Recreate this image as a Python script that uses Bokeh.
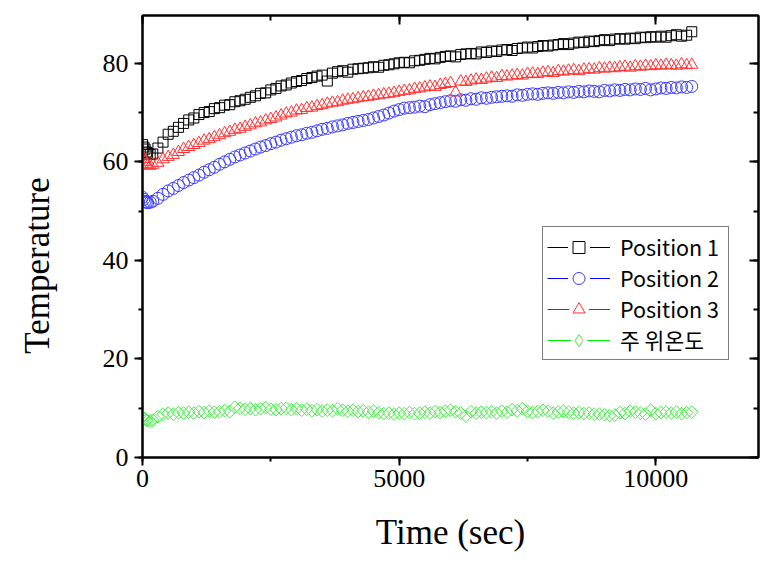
import numpy as np
from bokeh.plotting import figure
from bokeh.models import (Range1d, SingleIntervalTicker, LinearAxis, Legend,
                          LegendItem, Label)
from bokeh.embed import file_html
from bokeh.resources import INLINE

# ---------------- data ----------------
TIME = [0, 25, 50, 75, 100, 150, 200,
        300, 400, 500, 600, 700, 800, 900, 1000, 1100, 1200,
        1300, 1400, 1500, 1600, 1700, 1800, 1900, 2000, 2100, 2200,
        2300, 2400, 2500, 2600, 2700, 2800, 2900, 3000, 3100, 3200,
        3300, 3400, 3500, 3600, 3700, 3800, 3900, 4000, 4100, 4200,
        4300, 4400, 4500, 4600, 4700, 4800, 4900, 5000, 5100, 5200,
        5300, 5400, 5500, 5600, 5700, 5800, 5900, 6000, 6100, 6200,
        6300, 6400, 6500, 6600, 6700, 6800, 6900, 7000, 7100, 7200,
        7300, 7400, 7500, 7600, 7700, 7800, 7900, 8000, 8100, 8200,
        8300, 8400, 8500, 8600, 8700, 8800, 8900, 9000, 9100, 9200,
        9300, 9400, 9500, 9600, 9700, 9800, 9900, 10000, 10100, 10200,
        10300, 10400, 10500, 10600, 10700]

POSITION_1 = [63.5, 63.0, 62.6, 62.0, 61.8, 61.5, 61.6,
              62.8, 64.0, 65.6, 66.2, 67.0, 67.8, 68.5, 68.9, 69.6, 70.0,
              70.2, 70.8, 71.0, 71.5, 71.6, 72.2, 72.4, 72.7, 73.1, 73.4,
              73.9, 74.0, 74.6, 74.9, 75.4, 75.6, 76.0, 76.3, 76.5, 76.9,
              77.1, 77.4, 77.6, 76.4, 78.0, 78.3, 78.5, 78.2, 78.8, 78.9,
              79.0, 79.1, 79.3, 79.2, 79.6, 79.7, 79.9, 80.1, 80.2, 80.1,
              80.5, 80.6, 80.8, 81.0, 80.9, 81.2, 81.4, 81.5, 81.3, 81.8,
              81.9, 82.0, 81.9, 82.3, 82.2, 82.5, 82.4, 82.7, 82.8, 82.6,
              83.0, 83.1, 83.3, 83.1, 83.4, 83.6, 83.5, 83.7, 83.8, 84.0,
              83.8, 84.1, 84.3, 84.2, 84.5, 84.4, 84.6, 84.8, 84.6, 84.9,
              85.0, 84.9, 85.1, 85.0, 85.3, 85.2, 85.4, 85.3, 85.5, 85.3,
              85.6, 85.8, 85.5, 85.7, 86.4]

POSITION_2 = [52.8, 52.4, 52.0, 51.8, 51.7, 51.8, 52.0,
              52.6, 53.4, 54.1, 54.6, 55.2, 55.8, 56.3, 56.8, 57.3, 57.9,
              58.4, 58.9, 59.5, 60.0, 60.5, 61.0, 61.4, 61.8, 62.2, 62.6,
              63.0, 63.3, 63.7, 64.0, 64.4, 64.7, 65.0, 65.3, 65.5, 65.8,
              66.0, 66.3, 66.6, 66.8, 67.1, 67.3, 67.5, 67.8, 68.0, 68.2,
              68.4, 68.6, 68.9, 69.2, 69.5, 69.9, 70.3, 70.6, 70.9, 71.0,
              71.1, 71.3, 71.2, 71.6, 71.8, 72.0, 72.2, 72.4, 72.3, 72.6,
              72.5, 72.8, 72.7, 73.0, 72.9, 73.1, 73.2, 73.3, 73.4, 73.3,
              73.6, 73.5, 73.7, 73.8, 73.7, 73.9, 74.0, 73.9, 74.1, 74.0,
              74.2, 74.1, 74.3, 74.2, 74.4, 74.3, 74.2, 74.5, 74.4, 74.6,
              74.5, 74.7, 74.6, 74.8, 74.7, 74.9, 74.6, 74.8, 75.0, 74.9,
              75.1, 75.0, 75.2, 75.1, 75.3]

POSITION_3 = [61.2, 60.6, 60.0, 59.6, 59.3, 59.2, 59.4,
              59.8, 60.5, 61.0, 61.4, 62.0, 62.6, 63.0, 63.4, 63.8, 64.3,
              64.6, 65.0, 65.4, 65.8, 66.1, 66.5, 66.7, 67.1, 67.4, 67.8,
              68.0, 68.4, 68.7, 69.0, 69.4, 69.8, 70.0, 70.4, 70.5, 70.9,
              71.0, 71.3, 71.5, 71.8, 72.0, 72.1, 72.4, 72.6, 72.7, 72.9,
              73.1, 73.2, 73.4, 73.5, 73.7, 73.8, 74.0, 74.2, 74.4, 74.5,
              74.8, 74.9, 75.1, 75.3, 75.2, 75.6, 75.8, 76.0, 74.1, 76.3,
              76.2, 76.5, 76.7, 76.6, 76.9, 77.1, 77.0, 77.4, 77.3, 77.5,
              77.6, 77.5, 77.8, 77.9, 77.8, 78.1, 78.2, 78.0, 78.4, 78.3,
              78.5, 78.6, 78.4, 78.7, 78.8, 78.7, 79.0, 78.9, 79.1, 79.0,
              79.2, 79.3, 79.1, 79.4, 79.3, 79.5, 79.4, 79.6, 79.5, 79.7,
              79.6, 79.5, 79.8, 79.6, 79.7]

AMBIENT = [8.2, 8.0, 7.8, 7.6, 7.5, 7.4, 7.6,
           8.3, 8.8, 9.0, 8.8, 9.1, 9.0, 9.2, 9.0, 9.3, 9.1,
           9.4, 9.2, 9.3, 9.5, 9.3, 10.2, 10.0, 9.8, 9.9, 9.7,
           9.9, 10.1, 9.8, 9.7, 9.9, 10.0, 9.7, 9.9, 9.6, 9.8,
           9.5, 9.7, 9.4, 9.6, 9.5, 9.9, 9.6, 9.4, 9.6, 9.3,
           9.5, 9.2, 9.4, 9.1, 8.9, 9.0, 8.8, 9.0, 8.9, 9.1,
           8.9, 9.0, 9.2, 9.0, 9.3, 9.1, 9.4, 9.6, 9.3, 9.0,
           8.4, 9.3, 9.0, 9.2, 9.1, 9.3, 9.0, 9.4, 9.2, 9.7,
           9.5, 9.9, 9.4, 9.1, 9.3, 9.6, 9.4, 9.0, 9.2, 9.4,
           9.2, 9.0, 9.1, 8.9, 9.0, 8.8, 8.8, 8.7, 8.5, 8.6,
           9.1, 8.9, 9.4, 9.2, 9.0, 8.8, 9.6, 8.9, 9.1, 9.2,
           9.0, 9.2, 8.9, 9.1, 9.2]

SERIES = [POSITION_1, POSITION_2, POSITION_3, AMBIENT]
LABELS = ["Position 1", "Position 2", "Position 3", "주 위온도"]
X_LABEL = "Time (sec)"
Y_LABEL = "Temperature"

# ---------------- styles ----------------
MARKERS = ["square", "circle", "triangle", "square"]
LEGEND_MARKERS = ["square", "circle", "triangle", "diamond"]
LEGEND_SIZES = [11, 13, 13, 15]
ANGLES = [0, 0, 0, np.pi / 4]
SIZES = [10, 12, 12, 9]
MARKER_COLORS = ["#000000", "#3a3aff", "#ff3030", "#44ee44"]
LINE_COLORS = ["#000000", "#0000ff", "#ff0000", "#00ee00"]

SERIF = "Liberation Serif"

p = figure(width=770, height=565, output_backend="svg", toolbar_location=None,
           x_range=Range1d(0, 12000), y_range=Range1d(0, 89.7),
           min_border_left=142, min_border_right=12, min_border_top=15,
           min_border_bottom=108)
p.xgrid.visible = False
p.ygrid.visible = False
p.outline_line_color = "black"
p.outline_line_width = 2
p.background_fill_color = "white"
p.border_fill_color = "white"

xticker = SingleIntervalTicker(interval=5000, num_minor_ticks=2)
yticker = SingleIntervalTicker(interval=20, num_minor_ticks=2)
p.xaxis.ticker = xticker
p.yaxis.ticker = yticker

for ax in (p.xaxis[0], p.yaxis[0]):
    ax.axis_line_width = 2
    ax.major_tick_line_width = 2
    ax.minor_tick_line_width = 2
    ax.major_tick_out = 8
    ax.major_tick_in = 0
    ax.minor_tick_out = 4
    ax.minor_tick_in = 0
    ax.major_label_text_font = SERIF
    ax.major_label_text_font_size = "26px"
    ax.major_label_text_color = "black"
p.xaxis.major_label_standoff = 4
p.yaxis.major_label_standoff = 6

p.xaxis.axis_label = X_LABEL
p.xaxis.axis_label_text_font = SERIF
p.xaxis.axis_label_text_font_size = "35px"
p.xaxis.axis_label_text_font_style = "normal"
p.xaxis.axis_label_text_color = "black"
p.xaxis.axis_label_standoff = 23

for side, tk in (("above", xticker), ("right", yticker)):
    ax = LinearAxis(ticker=tk, major_label_text_font_size="1px",
                    major_label_text_color=None,
                    major_label_standoff=0, axis_line_width=2,
                    major_tick_line_width=2, minor_tick_line_width=2,
                    major_tick_in=9, major_tick_out=0,
                    minor_tick_in=5, minor_tick_out=0)
    p.add_layout(ax, side)

# y-axis title placed in the left side panel (so it is not clipped to the frame)
ylab = Label(x=-23, y=192, x_units="screen", y_units="screen",
             text=Y_LABEL, angle=np.pi / 2, text_align="center",
             text_baseline="middle", text_font=SERIF,
             text_font_size="35px", text_color="black")
p.add_layout(ylab, "left")

for ys, m, ang, sz, mc in zip(SERIES, MARKERS, ANGLES, SIZES, MARKER_COLORS):
    p.scatter(x=TIME, y=ys, marker=m, angle=ang, size=sz,
              fill_color=None, line_color=mc, line_width=1)

items = []
for lbl, m, ls, mc, lc in zip(LABELS, LEGEND_MARKERS, LEGEND_SIZES,
                              MARKER_COLORS, LINE_COLORS):
    line_r = p.line(x=[np.nan], y=[np.nan], line_color=lc, line_width=1.2)
    back_r = p.scatter(x=[np.nan], y=[np.nan], marker=m, size=ls,
                       fill_color="white", line_color="white", line_width=10)
    mark_r = p.scatter(x=[np.nan], y=[np.nan], marker=m, size=ls,
                       fill_color=None, line_color=mc, line_width=1)
    items.append(LegendItem(label=lbl, renderers=[line_r, back_r, mark_r]))

legend = Legend(items=items, location=(400, 97))
legend.border_line_color = "black"
legend.border_line_width = 1
legend.background_fill_color = "white"
legend.background_fill_alpha = 1
legend.label_text_font = "Noto Sans CJK KR"
legend.label_text_font_size = "21.5px"
legend.label_text_color = "black"
legend.padding = 4
legend.spacing = 0
legend.margin = 0
legend.glyph_width = 63
legend.glyph_height = 30
legend.label_height = 30
legend.label_width = 104
legend.label_standoff = 10
p.add_layout(legend)

open("out.html", "w", encoding="utf-8").write(file_html(p, INLINE))
